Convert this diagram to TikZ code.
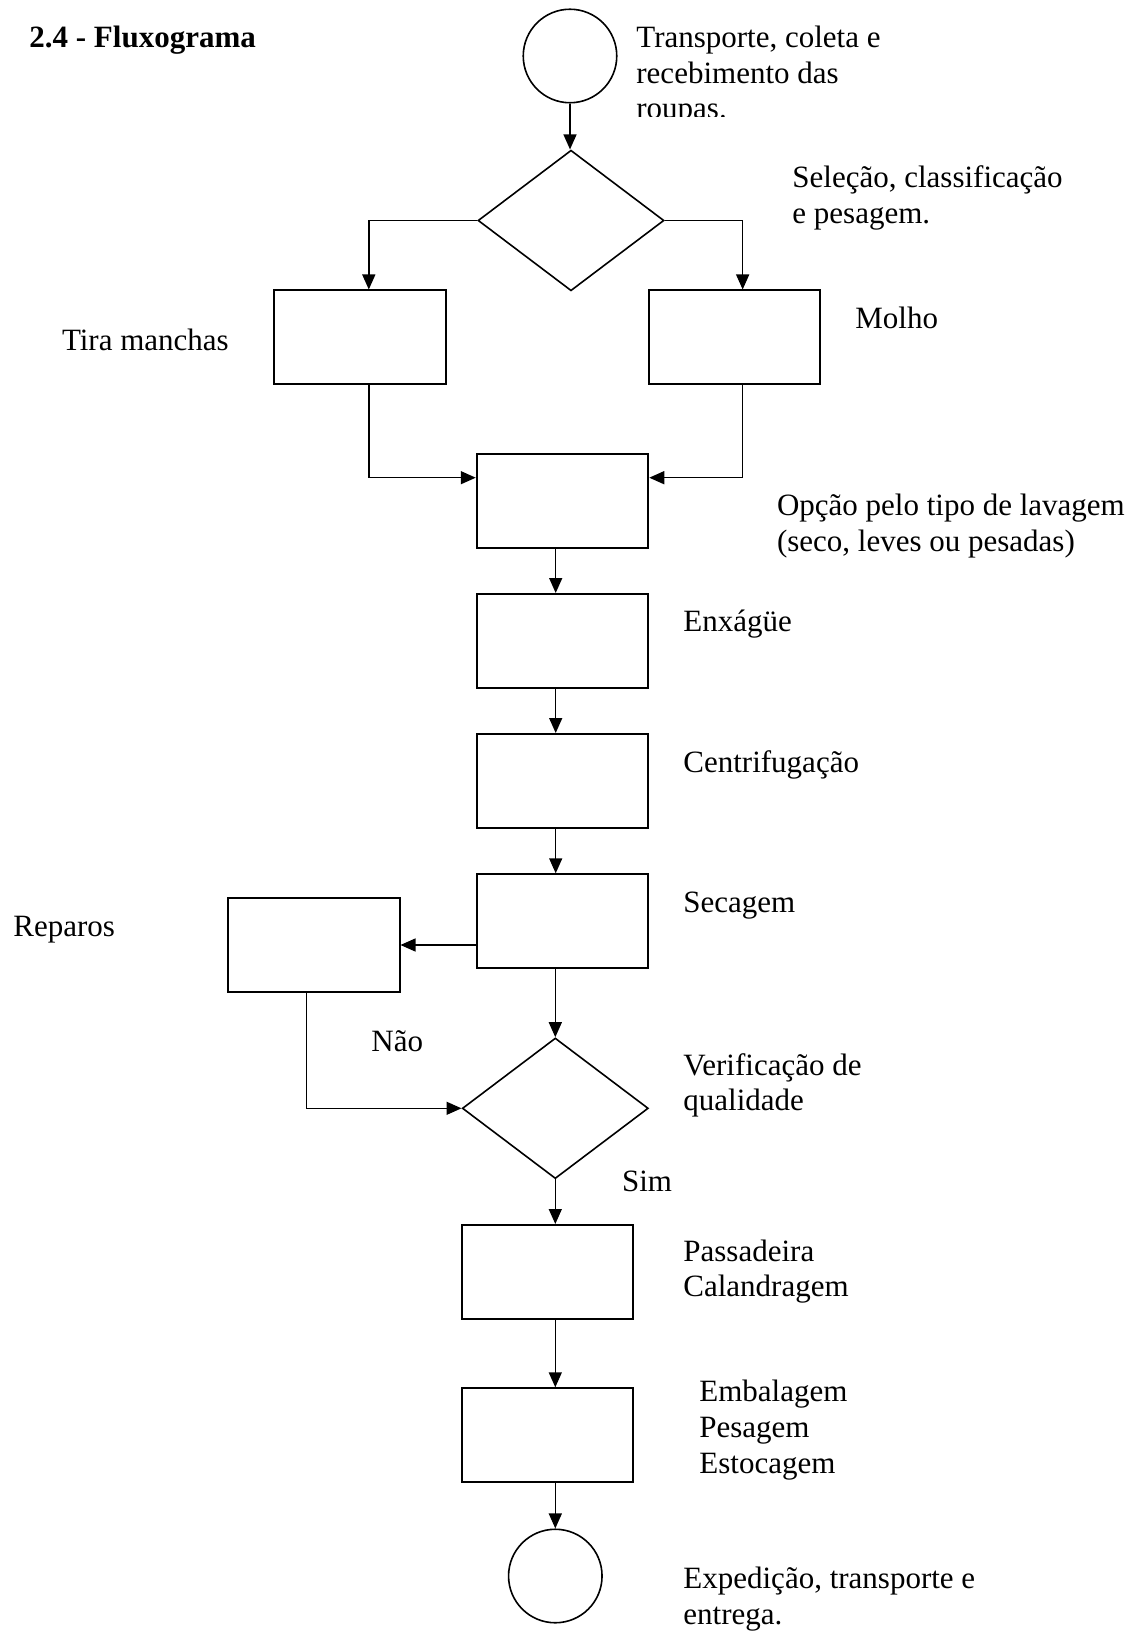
\documentclass[tikz,border=0pt]{standalone}
\usepackage{fontspec}
\setmainfont{Liberation Serif}
\usetikzlibrary{shapes.geometric,arrows.meta}
\begin{document}
\begin{tikzpicture}[x=0.5pt,y=-0.5pt,
  box/.style={draw,line width=1pt,minimum width=85.75pt,minimum height=47pt,inner sep=0pt},
  dec/.style={draw,diamond,line width=0.8pt,inner sep=0pt,minimum width=93pt,minimum height=70.3pt},
  term/.style={draw,circle,line width=0.8pt,inner sep=0pt,minimum size=46.75pt},
  conn/.style={line width=0.7pt,-{Triangle[length=7.5pt,width=6.5pt]}},
  lbl/.style={anchor=base west,inner sep=0pt,font=\fontsize{15.5}{17.85}\selectfont},
  ttl/.style={lbl,font=\fontsize{15.5}{17.85}\selectfont\bfseries},
]
\useasboundingbox[fill=white] (0,0) rectangle (1136,1636);

% shapes
\node[term] (start) at (570,56) {};
\node[dec] (d1) at (571,220.5) {};
\node[box] (tira) at (360,337.5) {};
\node[box] (molho) at (734.25,337.5) {};
\node[box] (opcao) at (562.5,501) {};
\node[box] (enx) at (562.5,641) {};
\node[box] (cent) at (562.5,781) {};
\node[box] (sec) at (562.5,921.3) {};
\node[box] (rep) at (313.75,945) {};
\node[dec] (d2) at (555.3,1108.3) {};
\node[box] (pass) at (547.3,1272) {};
\node[box] (emb) at (547.3,1435.3) {};
\node[term] (end) at (555.3,1576) {};

% connectors
\draw[conn] (start.south) -- (start.south |- d1.north);
\draw[conn] (d1.west) -| ([xshift=4.4pt]tira.north);
\draw[conn] (d1.east) -| ([xshift=4.2pt]molho.north);
\draw[conn] ([xshift=4.4pt]tira.south) |- ([yshift=11.65pt]opcao.west);
\draw[conn] ([xshift=4.2pt]molho.south) |- ([yshift=11.65pt]opcao.east);
\draw[conn] ([xshift=-3.4pt]opcao.south) -- ([xshift=-3.4pt]enx.north);
\draw[conn] ([xshift=-3.4pt]enx.south) -- ([xshift=-3.4pt]cent.north);
\draw[conn] ([xshift=-3.4pt]cent.south) -- ([xshift=-3.4pt]sec.north);
\draw[conn] ([yshift=-11.85pt]sec.west) -- ([yshift=-11.85pt]sec.west -| rep.east);
\draw[conn] (sec.south -| d2.north) -- (d2.north);
\draw[conn] ([xshift=-3.6pt]rep.south) |- (d2.west);
\draw[conn] (d2.south) -- (d2.south |- pass.north);
\draw[conn] (pass.south -| d2.south) -- (emb.north -| d2.south);
\draw[conn] (emb.south -| end.north) -- (end.north);

% labels
\node[ttl] (title) at (29,48) {2.4 - Fluxograma};
\node[lbl] (t1a) at (636,47.7) {Transporte, coleta e};
\node[lbl] (t1b) at (636,83.2) {recebimento das};
\begin{scope}
\clip (600,100) rectangle (900,116.5);
\node[lbl] (t1c) at (636,118.7) {roupas.};
\end{scope}
\node[lbl] (t2a) at (792,187.7) {Seleção, classificação};
\node[lbl] (t2b) at (792,223.4) {e pesagem.};
\node[lbl] (t3) at (61.6,350.7) {Tira manchas};
\node[lbl] (t4) at (855,329) {Molho};
\node[lbl] (t5a) at (776.6,515.5) {Opção pelo tipo de lavagem};
\node[lbl] (t5b) at (776.6,551.2) {(seco, leves ou pesadas)};
\node[lbl] (t6) at (683,631.7) {Enxágüe};
\node[lbl] (t7) at (683,772.3) {Centrifugação};
\node[lbl] (t8) at (683,912.3) {Secagem};
\node[lbl] (t9) at (13,936) {Reparos};
\node[lbl] (t10) at (371,1051.7) {Não};
\node[lbl] (t11a) at (683,1075) {Verificação de};
\node[lbl] (t11b) at (683,1110.7) {qualidade};
\node[lbl] (t12) at (621.7,1191.7) {Sim};
\node[lbl] (t13a) at (683,1261) {Passadeira};
\node[lbl] (t13b) at (683,1296.7) {Calandragem};
\node[lbl] (t14a) at (699,1401.7) {Embalagem};
\node[lbl] (t14b) at (699,1437.7) {Pesagem};
\node[lbl] (t14c) at (699,1473.7) {Estocagem};
\node[lbl] (t15a) at (683,1588.3) {Expedição, transporte e};
\node[lbl] (t15b) at (683,1624) {entrega.};
\end{tikzpicture}
\end{document}
